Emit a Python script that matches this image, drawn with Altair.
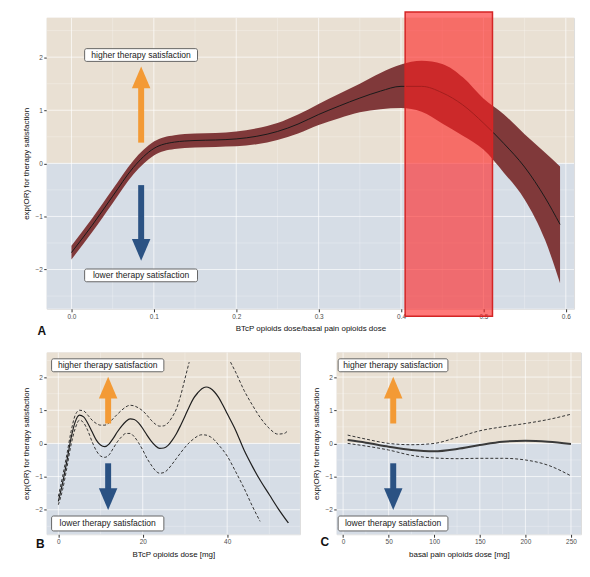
import altair as alt
import pandas as pd

FONT = "Liberation Sans"
YTITLE = "exp(OR) for therapy satisfaction"
HIGH_TXT = "higher therapy satisfaction"
LOW_TXT = "lower therapy satisfaction"

# ---------------- Panel A data ----------------
a_x = [0.000, 0.025, 0.050, 0.075, 0.100, 0.125, 0.150, 0.175, 0.200, 0.225, 0.250, 0.275,
       0.300, 0.325, 0.350, 0.375, 0.400, 0.425, 0.450, 0.475, 0.500, 0.525, 0.550, 0.575, 0.593]
a_fit = [-1.68, -1.17, -0.62, -0.08, 0.28, 0.40, 0.43, 0.44, 0.46, 0.51, 0.60, 0.74,
         0.92, 1.08, 1.23, 1.36, 1.45, 1.45, 1.33, 1.10, 0.76, 0.37, -0.07, -0.65, -1.15]
a_upper = [-1.55, -1.04, -0.49, 0.05, 0.41, 0.53, 0.56, 0.57, 0.60, 0.66, 0.76, 0.92,
           1.12, 1.31, 1.50, 1.70, 1.86, 1.93, 1.87, 1.62, 1.22, 0.92, 0.55, 0.20, -0.06]
a_lower = [-1.81, -1.30, -0.75, -0.21, 0.15, 0.27, 0.30, 0.31, 0.32, 0.36, 0.44, 0.56,
           0.72, 0.85, 0.96, 1.02, 1.04, 0.97, 0.75, 0.52, 0.26, -0.18, -0.68, -1.45, -2.26]
a_highlight_x = [0.405, 0.511]
a_highlight_y = [2.85, -2.88]

# ---------------- Panel B data ----------------
b_x = [0, 1, 2, 3, 4, 5, 6, 7, 8, 9, 10, 11, 12, 13, 14, 15, 16, 17, 18, 19, 20, 21, 22, 23, 24,
       25, 26, 27, 28, 29, 30, 31, 32, 33, 34, 35, 36, 37, 38, 39, 40, 42, 44, 46, 48, 50, 52, 54.5]
b_fit = [-1.75, -1.2, -0.55, 0.15, 0.65, 0.85, 0.8, 0.6, 0.35, 0.1, -0.05, -0.1, -0.02, 0.15,
         0.35, 0.52, 0.66, 0.74, 0.72, 0.62, 0.45, 0.25, 0.07, -0.07, -0.15, -0.14, -0.06, 0.1,
         0.3, 0.55, 0.82, 1.1, 1.35, 1.52, 1.65, 1.7, 1.66, 1.55, 1.38, 1.15, 0.9, 0.4, -0.2,
         -0.7, -1.15, -1.55, -1.95, -2.4]
b_up1_x = [0, 1, 2, 3, 4, 5, 6, 7, 8, 9, 10, 11, 12, 13, 14, 15, 16, 17, 18, 19, 20, 21, 22,
           23, 24, 25, 26, 27, 28, 29, 30, 31]
b_up1 = [-1.6, -1.0, -0.35, 0.35, 0.85, 1.0, 0.98, 0.85, 0.7, 0.6, 0.55, 0.55, 0.62, 0.75,
         0.88, 1.0, 1.1, 1.15, 1.13, 1.07, 0.98, 0.85, 0.7, 0.58, 0.52, 0.53, 0.62, 0.8, 1.05,
         1.45, 1.95, 2.45]
b_up2_x = [40.8, 42, 44, 46, 48, 50, 52, 53.5, 54.5]
b_up2 = [2.45, 2.15, 1.6, 1.15, 0.75, 0.45, 0.28, 0.3, 0.4]
b_low_x = [0, 1, 2, 3, 4, 5, 6, 7, 8, 9, 10, 11, 12, 13, 14, 15, 16, 17, 18, 19, 20, 21, 22,
           23, 24, 25, 26, 27, 28, 29, 30, 31, 32, 33, 34, 35, 36, 37, 38, 39, 40, 42, 44, 46, 47.8]
b_low = [-1.85, -1.4, -0.75, -0.05, 0.45, 0.7, 0.62, 0.38, 0.05, -0.22, -0.38, -0.42, -0.35,
         -0.15, 0.05, 0.2, 0.3, 0.3, 0.2, 0.02, -0.2, -0.45, -0.65, -0.82, -0.9, -0.88, -0.78,
         -0.62, -0.45, -0.28, -0.12, 0.02, 0.13, 0.22, 0.26, 0.25, 0.2, 0.1, -0.05, -0.2, -0.38,
         -0.85, -1.35, -1.9, -2.35]

# ---------------- Panel C data ----------------
c_x = [5, 25, 50, 75, 100, 125, 150, 175, 200, 225, 250]
c_fit = [0.1, 0.02, -0.1, -0.2, -0.24, -0.17, -0.05, 0.05, 0.08, 0.05, -0.02]
c_up = [0.25, 0.13, 0.0, -0.04, 0.0, 0.18, 0.38, 0.5, 0.6, 0.72, 0.88]
c_low = [0.0, -0.08, -0.2, -0.36, -0.44, -0.46, -0.45, -0.45, -0.5, -0.66, -0.98]

# ---------------- shared style ----------------
YDOM = [-2.74, 2.74]
Y_MAJOR = [-2, -1, 0, 1, 2]
Y_MINOR = [-2.5, -1.5, -0.5, 0.5, 1.5, 2.5]
TAN = "#E9E0D3"
BLUE = "#D6DDE6"
ORANGE = "#F39A35"
NAVY = "#2B5283"
UP = "M -0.85 1 L 0.85 1 L 0 -1 Z"
DOWN = "M -0.85 -1 L 0.85 -1 L 0 1 Z"

axis_common = dict(grid=False, domain=False, ticks=True, tickSize=3, tickColor="#333333",
                   labelFontSize=6.5, labelColor="#4d4d4d", labelFont=FONT, labelPadding=1.5,
                   titleFont=FONT, titleFontSize=8, titleFontWeight="normal", titleColor="#111111")


def panel(xdom, xmajor, xminor, xfmt, xtitle, w, h, curve_layers, ann, letter, letter_pos):
    ax_x = alt.Axis(title=xtitle, values=xmajor, format=xfmt, titlePadding=5, **axis_common)
    ax_y = alt.Axis(title=YTITLE, values=Y_MAJOR, format="d", titlePadding=4, **axis_common)

    def xe(f):
        return alt.X(f, type="quantitative", scale=alt.Scale(domain=xdom, nice=False, zero=False), axis=ax_x)

    def ye(f):
        return alt.Y(f, type="quantitative", scale=alt.Scale(domain=YDOM, nice=False, zero=False), axis=ax_y)

    bg = alt.Chart(pd.DataFrame({"y": [0, YDOM[0]], "y2": [YDOM[1], 0], "c": [TAN, BLUE]})).mark_rect().encode(
        y=ye("y"), y2="y2", color=alt.Color("c:N", scale=None))

    gx = pd.DataFrame({"x": xmajor + xminor, "w": [0.9] * len(xmajor) + [0.5] * len(xminor),
                       "o": [0.75] * len(xmajor) + [0.5] * len(xminor)})
    gy = pd.DataFrame({"y": Y_MAJOR + Y_MINOR, "w": [0.9] * len(Y_MAJOR) + [0.5] * len(Y_MINOR),
                       "o": [0.75] * len(Y_MAJOR) + [0.5] * len(Y_MINOR)})
    gridx = alt.Chart(gx).mark_rule(color="white").encode(
        x=xe("x"), strokeWidth=alt.StrokeWidth("w:Q", scale=None), opacity=alt.Opacity("o:Q", scale=None))
    gridy = alt.Chart(gy).mark_rule(color="white").encode(
        y=ye("y"), strokeWidth=alt.StrokeWidth("w:Q", scale=None), opacity=alt.Opacity("o:Q", scale=None))

    layers = [bg, gridx, gridy] + [f(xe, ye) for f in curve_layers]

    # annotation: boxes + arrows
    bx = pd.DataFrame({"x": [ann["bx"][0]] * 2, "x2": [ann["bx"][1]] * 2,
                       "y": [ann["hi"][0], ann["lo"][0]], "y2": [ann["hi"][1], ann["lo"][1]],
                       "t": [HIGH_TXT, LOW_TXT]})
    bx["xc"] = (bx["x"] + bx["x2"]) / 2
    bx["yc"] = (bx["y"] + bx["y2"]) / 2
    boxes = alt.Chart(bx).mark_rect(fill="white", stroke="#555555", strokeWidth=0.9, cornerRadius=2).encode(
        x=xe("x"), x2="x2", y=ye("y"), y2="y2")
    texts = alt.Chart(bx).mark_text(font=FONT, fontSize=8.6, color="#222222").encode(
        x=xe("xc"), y=ye("yc"), text="t:N")
    sh = pd.DataFrame({"x": [ann["ax"]] * 2, "y": [ann["up_shaft"][0], ann["dn_shaft"][0]],
                       "y2": [ann["up_shaft"][1], ann["dn_shaft"][1]], "c": [ORANGE, NAVY]})
    shafts = alt.Chart(sh).mark_rule(strokeWidth=6).encode(
        x=xe("x"), y=ye("y"), y2="y2", color=alt.Color("c:N", scale=None))
    hu = alt.Chart(pd.DataFrame({"x": [ann["ax"]], "y": [ann["up_head"]]})).mark_point(
        shape=UP, filled=True, size=480, opacity=1, color=ORANGE, strokeWidth=0).encode(x=xe("x"), y=ye("y"))
    hd = alt.Chart(pd.DataFrame({"x": [ann["ax"]], "y": [ann["dn_head"]]})).mark_point(
        shape=DOWN, filled=True, size=480, opacity=1, color=NAVY, strokeWidth=0).encode(x=xe("x"), y=ye("y"))
    lab = alt.Chart(pd.DataFrame({"t": [letter]})).mark_text(
        font=FONT, fontSize=12, fontWeight="bold", color="#111111").encode(
        x=alt.value(letter_pos[0]), y=alt.value(letter_pos[1]), text="t:N")

    layers += [shafts, hu, hd, boxes, texts, lab]
    return alt.layer(*layers).properties(width=w, height=h)


# ---------------- Panel A ----------------
dfA = pd.DataFrame({"x": a_x, "fit": a_fit, "up": a_upper, "lo": a_lower})
dfHL = pd.DataFrame({"x": [a_highlight_x[0]], "x2": [a_highlight_x[1]],
                     "y": [a_highlight_y[0]], "y2": [a_highlight_y[1]]})


def a_band(xe, ye):
    return alt.Chart(dfA).mark_area(color="#80393A", opacity=1, interpolate="monotone").encode(
        x=xe("x"), y=ye("up"), y2="lo")


def a_line(xe, ye):
    return alt.Chart(dfA).mark_line(color="#1a1a1a", strokeWidth=1, interpolate="monotone").encode(
        x=xe("x"), y=ye("fit"))


def a_rect(xe, ye):
    return alt.Chart(dfHL).mark_rect(fill="#FF2020", fillOpacity=0.6, stroke="#D42525",
                                     strokeWidth=1.5, clip=False).encode(
        x=xe("x"), x2="x2", y=ye("y"), y2="y2")


chartA = panel([-0.03, 0.61], [0.0, 0.1, 0.2, 0.3, 0.4, 0.5, 0.6],
               [0.05, 0.15, 0.25, 0.35, 0.45, 0.55], ".1f",
               "BTcP opioids dose/basal pain opioids dose", 531, 293,
               [a_band, a_line, a_rect],
               dict(bx=(0.016, 0.153), hi=(1.92, 2.16), lo=(-2.23, -1.99), ax=0.0846,
                    up_shaft=(0.39, 1.5), dn_shaft=(-0.41, -1.5), up_head=1.62, dn_head=-1.63),
               "A", (-5, 315))

# ---------------- Panel B ----------------
dfB = pd.DataFrame({"x": b_x, "fit": b_fit})
ciB = pd.concat([
    pd.DataFrame({"x": b_up1_x, "y": b_up1, "seg": "up1"}),
    pd.DataFrame({"x": b_up2_x, "y": b_up2, "seg": "up2"}),
    pd.DataFrame({"x": b_low_x, "y": b_low, "seg": "low"}),
])


def b_ci(xe, ye):
    return alt.Chart(ciB).mark_line(color="#333333", strokeWidth=1, strokeDash=[3, 2],
                                    interpolate="monotone").encode(
        x=xe("x"), y=ye("y"), detail="seg:N")


def b_line(xe, ye):
    return alt.Chart(dfB).mark_line(color="#1f1f1f", strokeWidth=1.2, interpolate="monotone").encode(
        x=xe("x"), y=ye("fit"))


chartB = panel([-2.75, 57.25], [0, 20, 40], [10, 30, 50], "d", "BTcP opioids dose [mg]", 255, 183,
               [b_ci, b_line],
               dict(bx=(-1.6, 25.0), hi=(2.16, 2.55), lo=(-2.64, -2.19), ax=11.8,
                    up_shaft=(0.6, 1.4), dn_shaft=(-0.6, -1.45), up_head=1.68, dn_head=-1.68),
               "B", (-6.5, 193))

# ---------------- Panel C ----------------
dfC = pd.DataFrame({"x": c_x, "fit": c_fit})
ciC = pd.concat([
    pd.DataFrame({"x": c_x, "y": c_up, "seg": "up"}),
    pd.DataFrame({"x": c_x, "y": c_low, "seg": "low"}),
])


def c_ci(xe, ye):
    return alt.Chart(ciC).mark_line(color="#333333", strokeWidth=1, strokeDash=[3, 2],
                                    interpolate="monotone").encode(x=xe("x"), y=ye("y"), detail="seg:N")


def c_line(xe, ye):
    return alt.Chart(dfC).mark_line(color="#3a3a3a", strokeWidth=2, interpolate="monotone").encode(
        x=xe("x"), y=ye("fit"))


chartC = panel([-7, 261], [0, 50, 100, 150, 200, 250], [25, 75, 125, 175, 225], "d",
               "basal pain opioids dose [mg]", 246, 183,
               [c_ci, c_line],
               dict(bx=(-5.4, 115.0), hi=(2.16, 2.55), lo=(-2.64, -2.19), ax=55,
                    up_shaft=(0.6, 1.4), dn_shaft=(-0.6, -1.45), up_head=1.68, dn_head=-1.68),
               "C", (-12, 191))

bottom = alt.hconcat(chartB, chartC, spacing=37, bounds="flush")
chart = alt.vconcat(chartA, bottom, spacing=44, bounds="flush").properties(
    padding={"left": 14, "top": 0, "right": 0, "bottom": 0}
).configure_view(stroke=None).configure(background="white")

chart.save("out.html", embed_options={"renderer": "svg", "actions": False})
